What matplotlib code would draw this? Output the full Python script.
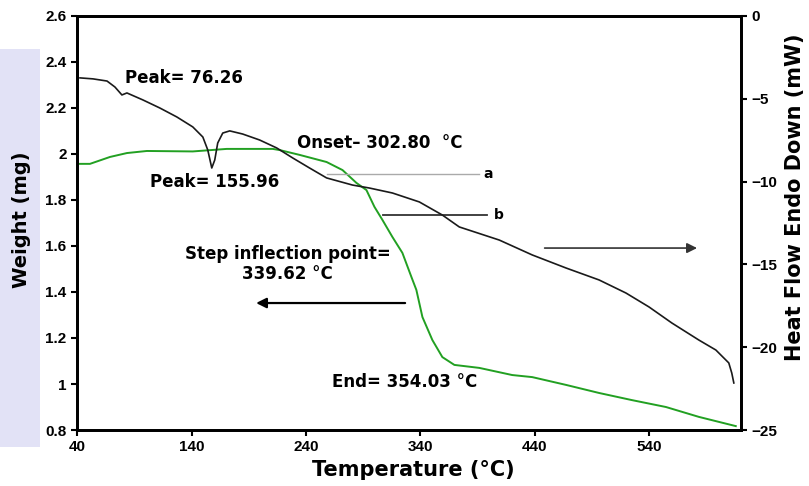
import matplotlib.pyplot as plt
from matplotlib.patches import Rectangle

plt.rcParams['font.family'] = ['Liberation Sans', 'DejaVu Sans']

# TGA weight curve (left axis)
temp_w = [41.7, 51.3, 68.8, 83.6, 101.0, 141.1, 170.8, 210.9, 217.0, 234.4,
          258.0, 271.9, 284.1, 292.8, 299.8, 306.8, 315.5, 324.2, 332.1, 336.4,
          341.7, 350.4, 359.1, 369.6, 391.4, 420.1, 437.6, 467.2, 496.0, 524.7,
          554.4, 583.2, 615.4]
weight = [1.957, 1.957, 1.987, 2.004, 2.013, 2.011, 2.022, 2.022, 2.017, 1.996,
          1.965, 1.930, 1.874, 1.843, 1.770, 1.713, 1.639, 1.570, 1.465, 1.409,
          1.291, 1.191, 1.117, 1.083, 1.070, 1.039, 1.030, 0.996, 0.961, 0.930,
          0.900, 0.857, 0.817]

# DSC heat flow curve (right axis)
temp_h = [42.6, 54.0, 66.2, 73.1, 79.2, 83.6, 97.5, 112.4, 127.2, 141.1,
          149.9, 154.2, 157.7, 160.3, 162.9, 167.3, 173.4, 184.7, 199.5, 214.4,
          228.3, 243.1, 258.0, 280.6, 295.4, 315.5, 339.0, 359.1, 373.9, 408.8,
          437.6, 467.2, 496.0, 519.5, 539.6, 559.6, 583.2, 598.0, 609.3, 611.9,
          613.7]
heat = [-3.74, -3.80, -3.93, -4.29, -4.77, -4.65, -5.07, -5.56, -6.10, -6.70,
        -7.31, -8.09, -9.18, -8.70, -7.67, -7.07, -6.94, -7.13, -7.49, -7.97,
        -8.57, -9.18, -9.78, -10.21, -10.39, -10.69, -11.23, -12.02, -12.74, -13.53,
        -14.43, -15.22, -15.94, -16.73, -17.57, -18.54, -19.57, -20.17, -20.95, -21.56,
        -22.16]

x_ticks = [40, 140, 240, 340, 440, 540]
w_ticks = [0.8, 1, 1.2, 1.4, 1.6, 1.8, 2, 2.2, 2.4, 2.6]
w_labels = ['0.8', '1', '1.2', '1.4', '1.6', '1.8', '2', '2.2', '2.4', '2.6']
h_ticks = [0, -5, -10, -15, -20, -25]

fig = plt.figure(figsize=(8.09, 4.86), dpi=100)
# faint watermark band on the left edge
fig.patches.append(Rectangle((0, 0.08), 0.05, 0.82, transform=fig.transFigure,
                             facecolor='#e2e2f6', edgecolor='none', zorder=-10))
ax = fig.add_axes([0.0952, 0.1152, 0.8208, 0.852])
ax2 = ax.twinx()

ax.plot(temp_w, weight, color='#22a022', lw=1.4)
ax2.plot(temp_h, heat, color='#1a1a1a', lw=1.2)

ax.set_xlim(40, 620)
ax.set_ylim(0.8, 2.6)
ax2.set_ylim(-25, 0)
ax.set_xticks(x_ticks)
ax.set_yticks(w_ticks)
ax.set_yticklabels(w_labels)
ax2.set_yticks(h_ticks)

for a in (ax, ax2):
    for s in a.spines.values():
        s.set_linewidth(2)
    a.tick_params(direction='out', length=4, width=1.5, labelsize=11)
    for lab in a.get_xticklabels() + a.get_yticklabels():
        lab.set_fontweight('bold')

lab_font = dict(family='DejaVu Sans', fontweight='bold')
ax.set_xlabel('Temperature (°C)', fontsize=15, va='center', **lab_font)
ax.xaxis.set_label_coords(0.507, -0.097)
ax.set_ylabel('Weight (mg)', fontsize=14, va='center', **lab_font)
ax.yaxis.set_label_coords(-0.083, 0.507)
ax2.set_ylabel('Heat Flow Endo Down (mW)', fontsize=15, va='center', **lab_font)
ax2.yaxis.set_label_coords(1.081, 0.563)

# reference lines a and b
ax.plot([258, 391], [1.913, 1.913], color='#aaaaaa', lw=1)
ax.text(395, 1.913, 'a', fontsize=10, va='center', **lab_font)
ax.plot([307, 398], [1.735, 1.735], color='#333333', lw=1.3)
ax.text(404, 1.735, 'b', fontsize=10, va='center', **lab_font)

# arrows pointing to each axis
ax.annotate('', xy=(584, 1.591), xytext=(446, 1.591),
            arrowprops=dict(arrowstyle='-|>', color='#333333', lw=1.2, mutation_scale=15))
ax.annotate('', xy=(194, 1.352), xytext=(329, 1.352),
            arrowprops=dict(arrowstyle='-|>', color='black', lw=1.6, mutation_scale=15))

fs = 12
ax.text(82, 2.33, 'Peak= 76.26', fontsize=fs, va='center', **lab_font)
ax.text(104, 1.878, 'Peak= 155.96', fontsize=fs, va='center', **lab_font)
ax.text(232, 2.048, 'Onset\u2013 302.80  °C', fontsize=fs, va='center', **lab_font)
ax.text(224, 1.522, 'Step inflection point=\n339.62 °C', fontsize=fs,
        va='center', ha='center', multialignment='center', **lab_font)
ax.text(263, 1.009, 'End= 354.03 °C', fontsize=fs, va='center', **lab_font)

fig.savefig('out.png', dpi=100)
